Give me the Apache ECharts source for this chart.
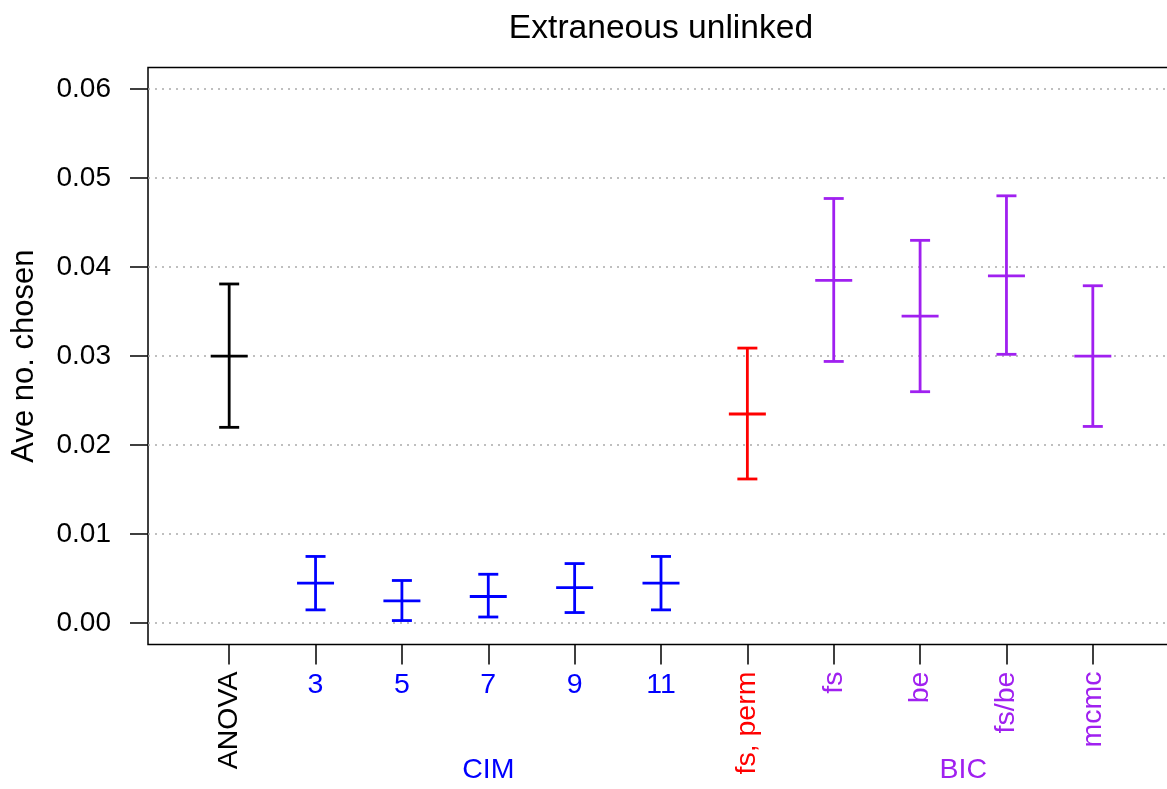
<!DOCTYPE html>
<html>
<head>
<meta charset="utf-8">
<script src="https://cdn.jsdelivr.net/npm/echarts@6/dist/echarts.min.js"></script>
<style>
  html, body { margin: 0; padding: 0; background: #fff; overflow: hidden; }
  #chart { width: 1167px; height: 789px; }
</style>
</head>
<body>
<div id="chart"></div>
<script>
// data
const categories = ['ANOVA', '3', '5', '7', '9', '11', 'fs, perm', 'fs', 'be', 'fs/be', 'mcmc'];
const groupOf = ['ANOVA', 'CIM', 'CIM', 'CIM', 'CIM', 'CIM', 'perm', 'BIC', 'BIC', 'BIC', 'BIC'];
const means = [0.0300, 0.0045, 0.0025, 0.0030, 0.0040, 0.0045, 0.0235, 0.0385, 0.0345, 0.0390, 0.0300];
const upper = [0.0381, 0.0075, 0.0048, 0.0055, 0.0067, 0.0075, 0.0309, 0.0477, 0.0430, 0.0480, 0.0379];
const lower = [0.0220, 0.0015, 0.0003, 0.0007, 0.0012, 0.0015, 0.0162, 0.0294, 0.0260, 0.0302, 0.0221];
const groupLabels = ['CIM', 'BIC'];
const yTicks = [0, 0.01, 0.02, 0.03, 0.04, 0.05, 0.06];

const groupColors = { ANOVA: '#000000', CIM: '#0000ff', perm: '#ff0000', BIC: '#a020f0' };
const FONT = '"Liberation Sans", Arial, sans-serif';

// R style: axis range padded by 4%
const xMin = 0.5 - 0.44, xMax = 11.5 + 0.44;
const yMin = -0.0024, yMax = 0.0624;

const barData = categories.map((c, i) => [i + 1, means[i], upper[i], lower[i]]);
const labelData = categories.map((c, i) => [i + 1, yMin]);
const groupData = groupLabels.map(g => {
  const idx = [];
  groupOf.forEach((v, i) => { if (v === g) idx.push(i + 1); });
  return [idx.reduce((a, b) => a + b, 0) / idx.length, yMin, g];
});

function renderBar(params, api) {
  const x = api.value(0);
  const m = api.coord([x, api.value(1)]);
  const u = api.coord([x, api.value(2)]);
  const l = api.coord([x, api.value(3)]);
  const style = { stroke: groupColors[groupOf[params.dataIndex]], lineWidth: 2.8 };
  return {
    type: 'group',
    children: [
      { type: 'line', shape: { x1: u[0], y1: u[1], x2: l[0], y2: l[1] }, style },
      { type: 'line', shape: { x1: u[0] - 10, y1: u[1], x2: u[0] + 10, y2: u[1] }, style },
      { type: 'line', shape: { x1: l[0] - 10, y1: l[1], x2: l[0] + 10, y2: l[1] }, style },
      { type: 'line', shape: { x1: m[0] - 18.5, y1: m[1], x2: m[0] + 18.5, y2: m[1] }, style }
    ]
  };
}

function renderLabel(params, api) {
  const i = params.dataIndex;
  const p = api.coord([api.value(0), yMin]);
  const name = categories[i];
  const flat = /^\d+$/.test(name);
  return {
    type: 'text',
    x: p[0],
    y: flat ? p[1] + 41 : p[1] + 27,
    rotation: flat ? 0 : Math.PI / 2,
    style: {
      text: name,
      fill: groupColors[groupOf[i]],
      font: '28.5px ' + FONT,
      align: flat ? 'center' : 'right',
      verticalAlign: 'middle'
    }
  };
}

function renderGroup(params, api) {
  const g = groupLabels[params.dataIndex];
  const p = api.coord([api.value(0), yMin]);
  return {
    type: 'text',
    x: p[0],
    y: p[1] + 126,
    style: {
      text: g,
      fill: groupColors[g],
      font: '28.5px ' + FONT,
      align: 'center',
      verticalAlign: 'middle'
    }
  };
}

const chart = echarts.init(document.getElementById('chart'), null, { renderer: 'canvas' });
chart.setOption({
  animation: false,
  backgroundColor: '#ffffff',
  title: {
    text: 'Extraneous unlinked',
    left: 656,
    top: 7,
    textAlign: 'center',
    textStyle: { fontFamily: FONT, fontSize: 33.6, fontWeight: 'normal', color: '#000' }
  },
  grid: {
    left: 148, width: 1026, top: 67.6, height: 577,
    outerBoundsMode: 'none',
    containLabel: false,
    show: true, borderColor: '#000', borderWidth: 1.5, backgroundColor: 'transparent'
  },
  xAxis: {
    type: 'value',
    min: xMin,
    max: xMax,
    axisLine: { show: false, onZero: false },
    axisTick: {
      show: true, inside: false, length: 20,
      customValues: categories.map((c, i) => i + 1),
      lineStyle: { color: '#000', width: 1.5 }
    },
    axisLabel: { show: false },
    splitLine: { show: false }
  },
  yAxis: {
    type: 'value',
    min: yMin,
    max: yMax,
    name: 'Ave no. chosen',
    nameLocation: 'middle',
    nameGap: 108,
    nameTextStyle: { fontFamily: FONT, fontSize: 31, color: '#000' },
    axisLine: { show: false, onZero: false },
    axisTick: {
      show: true, inside: false, length: 18,
      customValues: yTicks,
      lineStyle: { color: '#000', width: 1.5 }
    },
    axisLabel: {
      customValues: yTicks,
      margin: 37,
      fontFamily: FONT, fontSize: 28, color: '#000',
      formatter: v => v.toFixed(2)
    },
    splitLine: {
      show: true,
      lineStyle: { color: '#aaaaaa', width: 1.5, type: [2, 5] }
    }
  },
  series: [
    { type: 'custom', renderItem: renderBar, data: barData, clip: false, silent: true },
    { type: 'custom', renderItem: renderLabel, data: labelData, clip: false, silent: true },
    { type: 'custom', renderItem: renderGroup, data: groupData, clip: false, silent: true }
  ]
});
</script>
</body>
</html>
